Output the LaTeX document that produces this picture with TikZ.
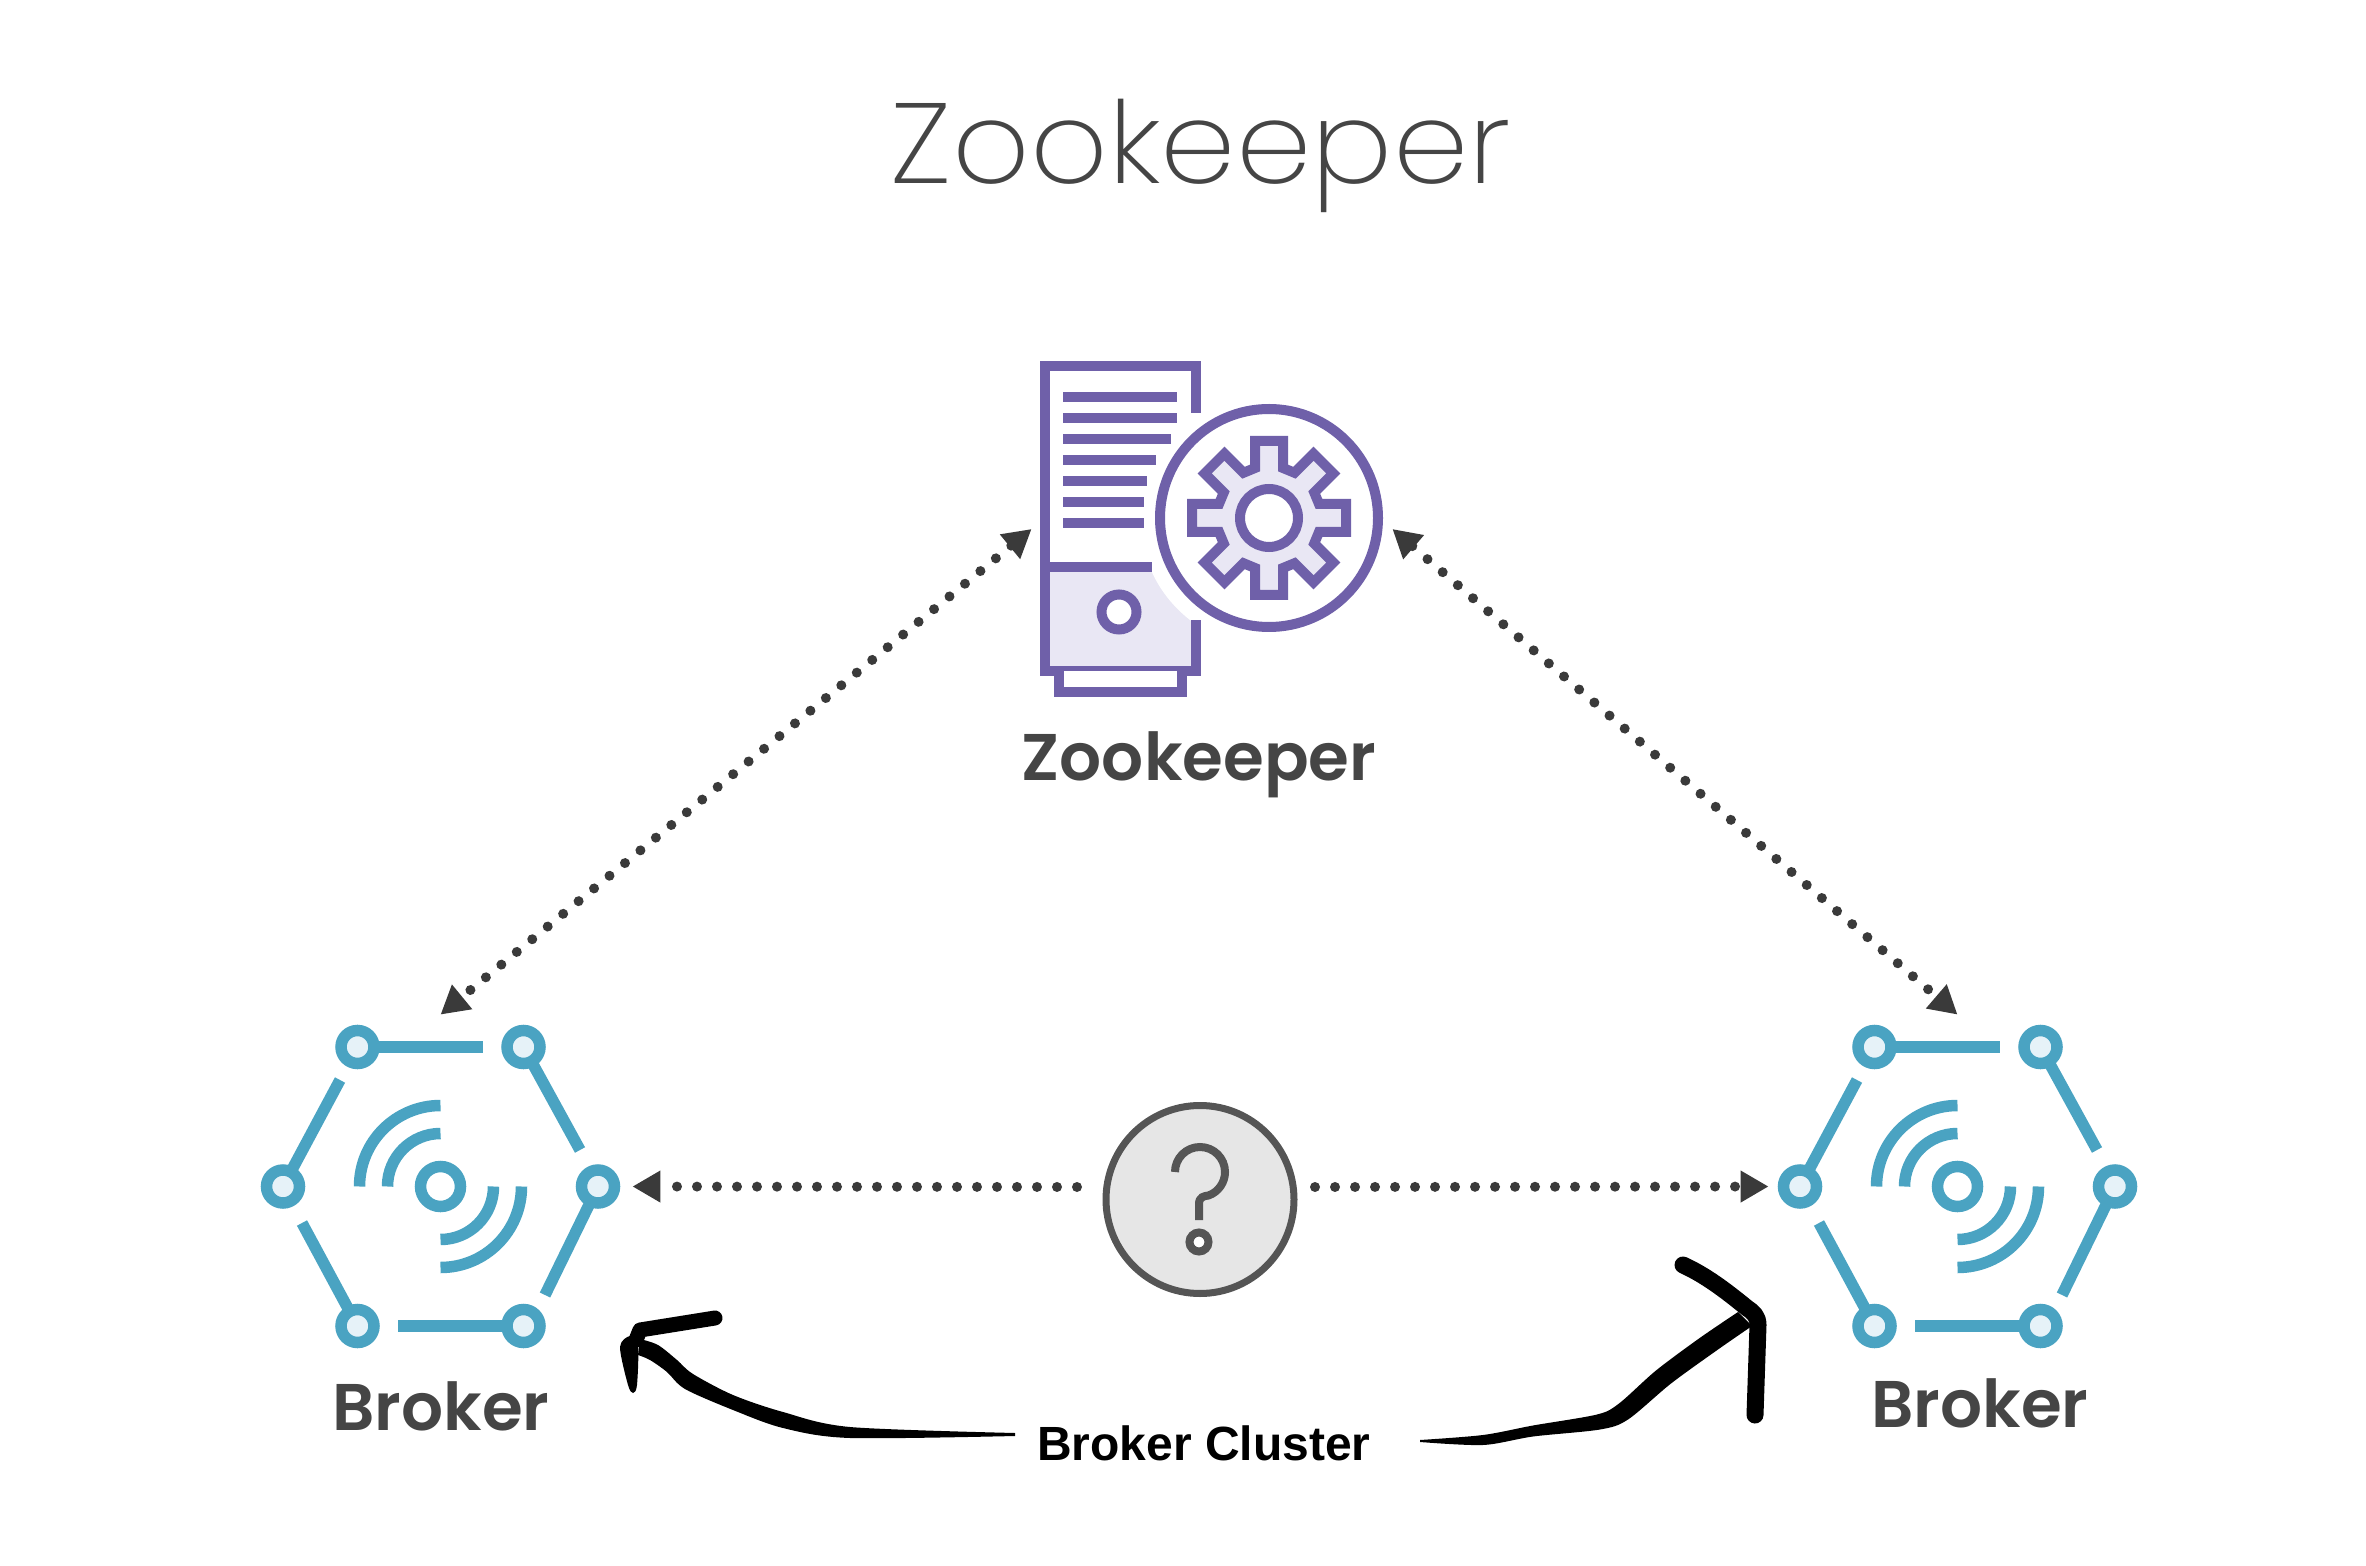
\documentclass[tikz,border=0pt]{standalone}
\usepackage{fontspec}
\usetikzlibrary{arrows.meta}
\newfontfamily\titlefont{Poppins}[UprightFont=* ExtraLight]
\newfontfamily\iconfont{Poppins}[UprightFont=* SemiBold]
\newfontfamily\notefont{Liberation Sans}
\definecolor{zkpurple}{HTML}{6F60A9}
\definecolor{zkfill}{HTML}{E9E7F4}
\definecolor{brokerblue}{HTML}{4AA3C2}
\definecolor{brokerfill}{HTML}{E6F2F8}
\definecolor{inkgrey}{HTML}{454545}
\definecolor{dotgrey}{HTML}{3A3A3A}
\definecolor{askfill}{HTML}{E6E6E6}
\definecolor{askline}{HTML}{555555}
\tikzset{
    spot/.style={inner sep=0pt,minimum width=#1,minimum height=171.5pt},
    zkline/.style={draw=zkpurple,line width=5pt},
    brokerline/.style={draw=brokerblue,line width=5.75pt},
    dotline/.style={draw=dotgrey,line width=5pt,line cap=round,dash pattern=on 0.01pt off 9.99pt},
    handline/.style={draw=black,line width=8pt,line cap=round,line join=round},
    iconlabel/.style={inner sep=0pt,anchor=base,text=inkgrey,font=\iconfont\fontsize{33}{33}\selectfont},
    broker icon/.pic={
        \draw[brokerline] (-83,139.5) -- (42.5,139.5);
        \draw[brokerline] (83,139.5) -- (139.5,36.5);
        \draw[brokerline] (157.5,0) -- (104.5,-108.5);
        \draw[brokerline] (83,-139.5) -- (-42.5,-139.5);
        \draw[brokerline] (-83,-139.5) -- (-138.5,-36.5);
        \draw[brokerline] (-157.5,0) -- (-100.5,106.5);
        \foreach \nx/\ny in {-83/139.5,83/139.5,157.5/0,83/-139.5,-83/-139.5,-157.5/0}{
            \draw[brokerline,fill=brokerfill] (\nx,\ny) circle (16.5);
        }
        \draw[brokerline,fill=white] (0,0) circle (20);
        \draw[brokerline] (-81,0) arc (180:90:81);
        \draw[brokerline] (-53,0) arc (180:90:53);
        \draw[brokerline] (81,0) arc (0:-90:81);
        \draw[brokerline] (53,0) arc (0:-90:53);
    },
}
\begin{document}
\begin{tikzpicture}[
                    x=0.5pt,
                    y=0.5pt,
                    >={Triangle[length=14pt,width=15pt]},
                ]
    \useasboundingbox (0,0) rectangle (2366,-1566);

    \node[inner sep=0pt,anchor=base,xscale=1.06,text=inkgrey,font=\titlefont\fontsize{57}{57}\selectfont] (title) at (1201,-184) {Zookeeper};

    % server and gear
    \fill[zkfill] (1044.5,-567) rectangle (1196,-671);
    \fill[white] (1269,-518) circle (129);
    \draw[zkline] (1196,-413) -- (1196,-366.5) -- (1044.5,-366.5) -- (1044.5,-671) -- (1196,-671) -- (1196,-620);
    \draw[zkline] (1044.5,-567) -- (1152,-567);
    \foreach \by/\bx in {397/1177,418/1177,439/1171,460/1156,481/1147,502/1144,523/1144}{
        \draw[zkline] (1063,-\by) -- (\bx,-\by);
    }
    \draw[zkline,fill=white] (1119,-612) circle (17.5);
    \draw[zkline,fill=white] (1058.5,-671) -- (1058.5,-692.5) -- (1182,-692.5) -- (1182,-671);
    \draw[zkline,fill=white] (1269,-518) circle (109);
    \begin{scope}[shift={(1269,-518)}]
        \draw[zkline,fill=zkfill] (50,-14)
            \foreach \ga in {0,45,...,315}{
                -- ([rotate=\ga]50,-14) -- ([rotate=\ga]77,-14) -- ([rotate=\ga]77,14) -- ([rotate=\ga]50,14)
            } -- cycle;
        \draw[zkline,fill=white] (0,0) circle (29);
    \end{scope}

    \node[spot=180pt,minimum height=2pt] (zookeeper) at (1212,-529) {};
    \node[iconlabel] (zookeeperLabel) at (1199,-780) {Zookeeper};

    \node[spot=191.5pt] (brokerL) at (440.5,-1186.5) {};
    \node[spot=188.5pt] (brokerR) at (1957.5,-1186.5) {};
    \pic at (brokerL) {broker icon};
    \pic at (brokerR) {broker icon};
    \node[iconlabel] (brokerLLabel) at (441,-1430) {Broker};
    \node[iconlabel] (brokerRLabel) at (1980,-1427) {Broker};

    % the open question
    \node[circle,draw=askline,fill=askfill,line width=3.5pt,minimum size=94pt,inner sep=0pt] (question) at (1200,-1199.5) {};
    \draw[draw=askline,line width=4pt] (1175,-1172) arc (180:-70:25) .. controls (1204,-1196) and (1199,-1197) .. (1199,-1204) -- (1199,-1220);
    \draw[draw=askline,fill=white,line width=4pt] (1199,-1242) circle (9.5);

    \coordinate (askL) at (1077,-1187);
    \coordinate (askR) at (1315,-1187);

    \draw[dotline,<->] (zookeeper.west) -- (brokerL.north);
    \draw[dotline,<->] (zookeeper.east) -- (brokerR.north);
    \draw[dotline,->] (askL) -- (brokerL.east);
    \draw[dotline,->] (askR) -- (brokerR.west);

    % hand drawn arrows
    \node[inner sep=0pt,anchor=base,font=\notefont\bfseries\fontsize{24}{24}\selectfont] (cluster) at (1204,-1460) {Broker Cluster};

    \fill[black] plot[smooth,tension=.5] coordinates {(1015,-1433) (850,-1427) (783,-1412) (733,-1395) (693,-1374) (677,-1360) (658,-1345) (640,-1339)}
        -- plot[smooth,tension=.5] coordinates {(638,-1355) (650,-1360) (667,-1372) (685,-1389) (733,-1410) (783,-1428) (850,-1438) (1015,-1436)} -- cycle;
    \draw[handline,line width=7.5pt] (715,-1318) -- (640,-1330) -- (636,-1340);
    \fill[black] plot[smooth cycle,tension=.5] coordinates {(620,-1347) (630,-1336) (638,-1345) (637,-1385) (633,-1393) (628,-1385)};

    \fill[black] plot[smooth,tension=.5] coordinates {(1420,-1440) (1483,-1435) (1533,-1425.5) (1597,-1414.5) (1619,-1403.5) (1656,-1370.5) (1699,-1338.5) (1738,-1312)}
        -- plot[smooth,tension=.5] coordinates {(1752,-1326) (1718,-1349.5) (1671,-1383.5) (1628,-1419.5) (1600,-1429.5) (1533,-1436.5) (1483,-1445) (1420,-1442)} -- cycle;
    \draw[handline,line width=8.5pt] (1683,-1265) .. controls (1705,-1275) and (1725,-1290) .. (1747,-1308) .. controls (1753,-1312) and (1758,-1316) .. (1758,-1325) -- (1755,-1415);
\end{tikzpicture}
\end{document}
